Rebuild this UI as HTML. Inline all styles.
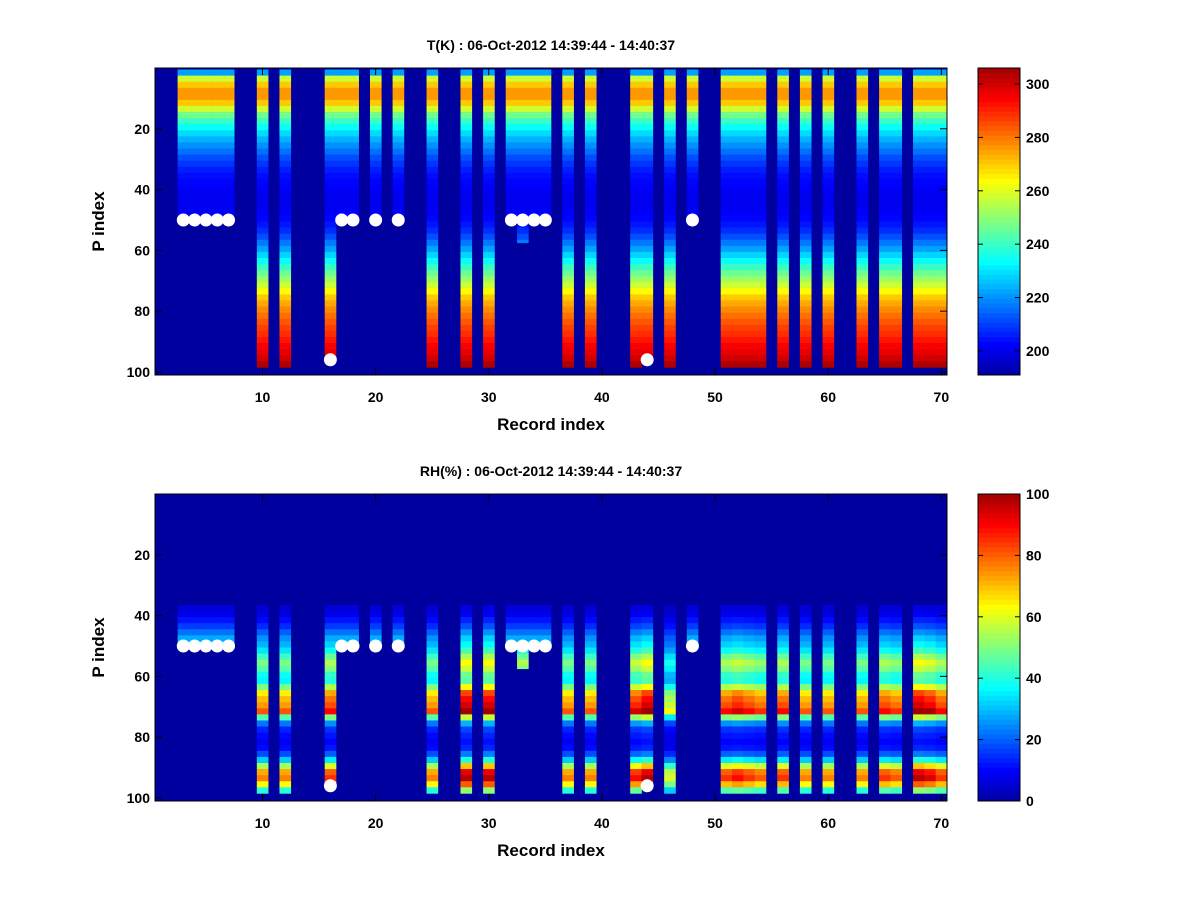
<!DOCTYPE html>
<html><head><meta charset="utf-8"><style>
body{margin:0;background:#fff}
svg text{font-family:"Liberation Sans",sans-serif;font-weight:bold;font-size:14px;fill:#000}
</style></head><body>
<svg id="chart" xmlns="http://www.w3.org/2000/svg" width="1200" height="900" viewBox="0 0 1200 900">
<rect width="1200" height="900" fill="#fff"/>
<g id="top"></g>
<g id="bot"></g>
</svg>
<script>
// records present and their deepest level
const records=[3,4,5,6,7,10,12,16,17,18,20,22,25,28,30,32,33,34,35,37,39,43,44,46,48,51,52,53,54,56,58,60,63,65,66,68,69,70];
const recordEnd=[49,49,49,49,49,98,98,96,49,49,49,49,98,98,98,49,57,49,49,98,98,98,96,98,50,98,98,98,98,98,98,98,98,98,98,98,98,98];
// temperature profile in 2-level steps starting at p=1
const tProfile=[222,258,270,276,276,270,258,247,240,234,229,224,220,216,212,209,206,204,203,202,201,201,201,202,203,205,208,212,217,222,228,234,240,246,252,258,264,270,274,278,281,284,287,289,292,295,297,300,304];
// RH profile in 2-level steps starting at p=1
const rhProfile=[0,0,0,0,0,0,0,0,0,0,0,0,0,0,0,0,0,0,6,8,12,16,22,28,32,38,48,55,50,42,40,55,72,78,82,90,50,25,15,12,10,12,20,35,60,80,85,70,45];
const rhScale=[1,1,1,1,1,0.9,0.9,1,1,1,1,1,0.9,1.15,1.15,1,1,1,1,0.9,0.9,1.05,1.15,0.7,1,1,1.05,1,0.95,1,0.9,0.9,0.9,1,0.95,1.15,1.1,1];
const dots=[[3,50],[4,50],[5,50],[6,50],[7,50],[17,50],[18,50],[20,50],[22,50],[32,50],[33,50],[34,50],[35,50],[48,50],[16,96],[44,96]];
const xTicks=[10,20,30,40,50,60,70];
const yTicks=[20,40,60,80,100];
const tCbTicks=[200,220,240,260,280,300];
const rhCbTicks=[0,20,40,60,80,100];

const NS='http://www.w3.org/2000/svg';
function jet(v){v=Math.max(0,Math.min(1,v));v=0.03+v*0.94;
 const f=x=>Math.max(0,Math.min(1,x));
 const r=f(1.5-Math.abs(4*v-3)),g=f(1.5-Math.abs(4*v-2)),b=f(1.5-Math.abs(4*v-1));
 return `rgb(${Math.round(r*255)},${Math.round(g*255)},${Math.round(b*255)})`;}
function el(t,a,p){const e=document.createElementNS(NS,t);for(const k in a)e.setAttribute(k,a[k]);p.appendChild(e);return e;}
function panel(g,top,title,vals,vmin,vmax,cbTicks,name){
 const L=155,R=947,T=top,B=top+307;
 const xs=r=>L+(r-0.5)*(R-L)/70, ys=p=>T+p*(B-T)/101;
 const bg=el('rect',{x:L,y:T,width:R-L,height:B-T,fill:jet(0)},g);
 
 
 records.forEach((r,i)=>{
  for(let p=1;p<=recordEnd[i];p++){
   const v=vals(i,p);
   const c=el('rect',{x:xs(r-0.5),y:ys(p-0.5),width:xs(r+0.5)-xs(r-0.5)+0.3,height:ys(p+0.5)-ys(p-0.5)+0.3,fill:jet((v-vmin)/(vmax-vmin))},g);
   
   
  }});
 dots.forEach(d=>{const c=el('circle',{cx:xs(d[0]),cy:ys(d[1]),r:6.5,fill:'#fff'},g);
  
  });
 const fr=el('rect',{x:L,y:T,width:R-L,height:B-T,fill:'none',stroke:'#000','stroke-width':1},g);
 
 
 xTicks.forEach(t=>{const x=xs(t);
  el('line',{x1:x,x2:x,y1:B,y2:B-7,stroke:'#000'},g);el('line',{x1:x,x2:x,y1:T,y2:T+7,stroke:'#000'},g);
  const tx=el('text',{x:x,y:B+27,'text-anchor':'middle'},g);tx.textContent=t;
  
  });
 yTicks.forEach(t=>{const y=ys(t);
  el('line',{x1:L,x2:L+7,y1:y,y2:y,stroke:'#000'},g);el('line',{x1:R,x2:R-7,y1:y,y2:y,stroke:'#000'},g);
  const tx=el('text',{x:L-5,y:y+5,'text-anchor':'end'},g);tx.textContent=t;
  
  });
 const ti=el('text',{x:551,y:T-18,'text-anchor':'middle'},g);ti.textContent=title;
 
 
 const xl=el('text',{x:551,y:B+55,'text-anchor':'middle','style':'font-size:17px'},g);xl.textContent='Record index';
 
 
 const yl=el('text',{x:0,y:0,'text-anchor':'middle','style':'font-size:17px',transform:`translate(104,${(T+B)/2}) rotate(-90)`},g);yl.textContent='P index';
 
 
 // colorbar
 const CL=978,CR=1020,n=64;
 for(let k=0;k<n;k++){const c=el('rect',{x:CL,y:B-(k+1)*(B-T)/n,width:CR-CL,height:(B-T)/n+0.5,fill:jet((k+0.5)/n)},g);
  
  }
 const cf=el('rect',{x:CL,y:T,width:CR-CL,height:B-T,fill:'none',stroke:'#000'},g);
 
 
 cbTicks.forEach(t=>{const y=B-(t-vmin)/(vmax-vmin)*(B-T);
  el('line',{x1:CL,x2:CL+5,y1:y,y2:y,stroke:'#000'},g);el('line',{x1:CR,x2:CR-5,y1:y,y2:y,stroke:'#000'},g);
  const tx=el('text',{x:CR+6,y:y+5},g);tx.textContent=t;
  
  });
}
panel(document.getElementById('top'),68,'T(K) : 06-Oct-2012 14:39:44 - 14:40:37',
 (i,p)=>tProfile[Math.min(tProfile.length-1,Math.floor((p-1)/2))],191,306,tCbTicks,'temperature');
panel(document.getElementById('bot'),494,'RH(%) : 06-Oct-2012 14:39:44 - 14:40:37',
 (i,p)=>Math.min(100,rhProfile[Math.min(rhProfile.length-1,Math.floor((p-1)/2))]*rhScale[i]),0,100,rhCbTicks,'humidity');
</script>
</body></html>
